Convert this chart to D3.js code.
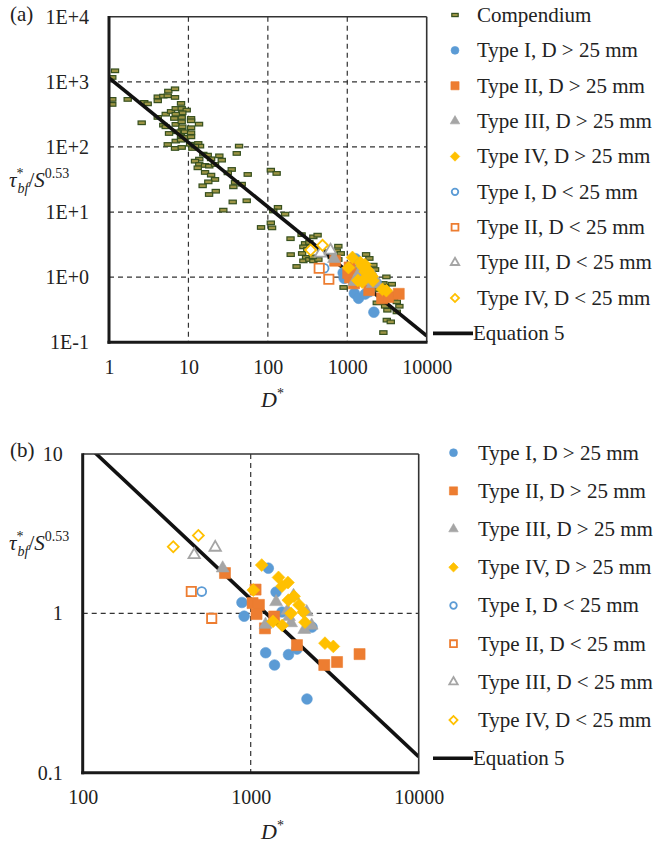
<!DOCTYPE html>
<html>
<head>
<meta charset="utf-8">
<script src="https://cdn.jsdelivr.net/npm/d3@7"></script>
<style>
  body { margin: 0; background: #fff; }
  svg { display: block; }
</style>
</head>
<body>
<div id="chart"></div>
<script>
// ---- data ----
const compendiumD = [1.19, 1.10, 1.10, 1.10, 1.72, 2.78, 3.07, 2.58, 4.11, 4.83, 4.11, 5.58, 5.49, 6.78, 6.78, 8.07, 5.18, 4.11, 6.04, 6.92,
  8.23, 9.52, 8.38, 8.23, 6.92, 6.64, 4.83, 5.18, 6.92, 8.23, 8.38, 8.23, 7.12, 5.70, 9.06, 8.07, 9.06, 6.92, 8.07, 10.8,
  10.8, 13.6, 10.8, 10.8, 10.8, 5.49, 6.78, 8.23, 10.5, 11.2, 13.3, 14.0, 12.1, 43.4, 40.6, 15.4, 17.5, 24.5, 13.7, 12.1,
  19.3, 26.3, 13.7, 16.2, 18.3, 21.6, 13.1, 35.1, 16.2, 19.3, 31.3, 55.8, 21.6, 17.8, 38.6, 46.9, 15.1, 36.8, 22.1, 18.2,
  36.1, 54.2, 27.5, 109, 129, 134, 117, 165, 109, 82.1, 113, 193, 266, 374, 423, 294, 333, 280, 314, 270,
  303, 280, 333, 194, 230, 374, 433, 368, 468, 525, 772, 738, 828, 638, 772, 1725, 1898, 2132, 2239, 898,
  3108, 2849, 3635, 2993, 2465, 2993, 3081, 3530, 3886, 2720, 2993, 3199, 4202, 4531, 4202, 2352, 3145, 3530, 2849];
const compendiumTau = [1476, 1168, 537, 450, 537, 483, 459, 235, 588, 603, 511, 720, 610, 781, 576, 466, 319, 284, 351, 390,
  390, 368, 334, 284, 319, 274, 216, 204, 222, 243, 204, 177, 171, 161, 171, 147, 140, 123, 127, 274,
  252, 224, 197, 165, 143, 109, 94.8, 98.2, 110, 94.8, 113, 103, 103, 103, 79.5, 77.5, 74.8, 73.0, 65.0, 60.5,
  65.7, 62.7, 53.8, 52.0, 50.7, 53.8, 47.8, 45.1, 40.6, 36.9, 40.0, 37.8, 31.7, 29.1, 28.5, 26.8, 25.3, 24.4, 20.9, 18.6,
  14.3, 14.9, 10.7, 44.0, 39.2, 11.8, 10.4, 9.29, 6.83, 5.80, 5.72, 3.90, 4.50, 4.16, 4.42, 3.29, 3.41, 2.92, 2.66, 2.31,
  2.01, 1.78, 1.87, 2.22, 1.46, 1.78, 1.87, 2.05, 2.60, 2.45, 2.99, 2.54, 2.31, 2.05, 1.87, 2.23, 1.94, 1.53, 1.31, 0.695,
  1.01, 0.80, 0.78, 0.727, 0.647, 0.616, 0.529, 0.548, 0.471, 0.418, 0.358, 0.311, 0.418, 0.358, 0.293, 0.403, 0.219, 0.206, 0.141];

const typeIBigD = [1273, 1416, 887, 914, 1535, 2317, 1228, 1386, 1679, 2163, 1886];
const typeIBigTau = [1.92, 1.36, 1.17, 0.96, 1.02, 0.82, 0.566, 0.474, 0.551, 0.29, 0.597];
const typeIIBigD = [703, 1069, 1026, 1119, 1083, 1216, 1380, 1886, 2741, 3266, 4446];
const typeIIBigTau = [1.79, 1.41, 1.16, 1.13, 0.99, 0.805, 0.955, 0.632, 0.474, 0.495, 0.555];
const typeIIIBigD = [681, 1416, 1798, 1656, 1225, 1738, 2084, 2306, 2154, 1690];
const typeIIIBigTau = [1.92, 1.18, 1.29, 1.04, 0.85, 0.87, 0.79, 0.84, 1.02, 0.95];
const typeIVBigD = [1163, 1464, 1667, 1535, 1036, 1675, 1939, 1738, 2056, 2104, 1358, 1541, 2767, 3103, 1811];
const typeIVBigTau = [2.01, 1.68, 1.56, 1.48, 1.40, 1.21, 1.13, 1.00, 1.02, 0.88, 0.89, 0.84, 0.65, 0.62, 1.28];
const typeISmallD = [511];
const typeISmallTau = [1.37];
const typeIISmallD = [443, 586];
const typeIISmallTau = [1.37, 0.93];
const typeIIISmallD = [461, 615];
const typeIIISmallTau = [2.33, 2.59];
const typeIVSmallD = [346, 488];
const typeIVSmallTau = [2.62, 3.08];

// Equation 5 end points
const eqD = [1, 10000];
const eqTau = [1150, 0.126];

const xTicksA = [1, 10, 100, 1000, 10000];
const xLabelsA = ["1", "10", "100", "1000", "10000"];
const yTicksA = [0.1, 1, 10, 100, 1000, 10000];
const yLabelsA = ["1E-1", "1E+0", "1E+1", "1E+2", "1E+3", "1E+4"];
const xTicksB = [100, 1000, 10000];
const xLabelsB = ["100", "1000", "10000"];
const yTicksB = [0.1, 1, 10];
const yLabelsB = ["0.1", "1", "10"];

// ---- styling ----
const FONT = '"Liberation Serif", "Times New Roman", Times, serif';
const BLUE = "#5B9BD5", ORANGE = "#ED7D31", GRAY = "#A5A5A5", YELLOW = "#FFC000";
const DASH_FILL = "#9c9444", DASH_STROKE = "#36501f";

const series = [
  { label: "Type I, D > 25 mm", D: typeIBigD, tau: typeIBigTau, shape: "circle", color: BLUE, open: false },
  { label: "Type II, D > 25 mm", D: typeIIBigD, tau: typeIIBigTau, shape: "square", color: ORANGE, open: false },
  { label: "Type III, D > 25 mm", D: typeIIIBigD, tau: typeIIIBigTau, shape: "triangle", color: GRAY, open: false },
  { label: "Type IV, D > 25 mm", D: typeIVBigD, tau: typeIVBigTau, shape: "diamond", color: YELLOW, open: false },
  { label: "Type I, D < 25 mm", D: typeISmallD, tau: typeISmallTau, shape: "circle", color: BLUE, open: true },
  { label: "Type II, D < 25 mm", D: typeIISmallD, tau: typeIISmallTau, shape: "square", color: ORANGE, open: true },
  { label: "Type III, D < 25 mm", D: typeIIISmallD, tau: typeIIISmallTau, shape: "triangle", color: GRAY, open: true },
  { label: "Type IV, D < 25 mm", D: typeIVSmallD, tau: typeIVSmallTau, shape: "diamond", color: YELLOW, open: true },
];

const panels = [
  {
    tag: "(a)", tagY: 21, left: 109, right: 426.7, top: 16.7, bottom: 342.3,
    xDomain: [1, 10000], yDomain: [0.1, 10000],
    xTicks: xTicksA, xLabels: xLabelsA, yTicks: yTicksA, yLabels: yLabelsA,
    xGrid: [10, 100, 1000], yGrid: [1, 10, 100, 1000],
    compendium: true, yTitleY: 187, xTitleY: 407,
    legendTop: 15, legendStep: 35.37, legendX: 455, legendTextX: 477,
  },
  {
    tag: "(b)", tagY: 457, left: 82.7, right: 418.7, top: 454, bottom: 772.7,
    xDomain: [100, 10000], yDomain: [0.1, 10],
    xTicks: xTicksB, xLabels: xLabelsB, yTicks: yTicksB, yLabels: yLabelsB,
    xGrid: [1000], yGrid: [1],
    compendium: false, yTitleY: 550, xTitleY: 839,
    legendTop: 452.7, legendStep: 38.2, legendX: 453.5, legendTextX: 478,
  },
];

const svg = d3.select("#chart").append("svg")
  .attr("width", 661)
  .attr("height", 845)
  .attr("font-family", FONT);

// marker path for a given shape
function markerPath(shape, open, scale = 1) {
  const sizes = open
    ? { circle: 62, square: 86, triangle: 56, diamond: 60 }
    : { circle: 90, square: 122, triangle: 72, diamond: 82 };
  const type = { circle: d3.symbolCircle, square: d3.symbolSquare, triangle: d3.symbolTriangle, diamond: d3.symbolSquare }[shape];
  return d3.symbol(type, sizes[shape] * scale * scale)();
}

function drawMarkers(g, s, x, y, scale = 1) {
  const pts = d3.zip(s.D, s.tau);
  g.append("g")
    .selectAll("path")
    .data(pts)
    .join("path")
    .attr("d", markerPath(s.shape, s.open, scale))
    .attr("transform", (d) => `translate(${x(d[0])},${y(d[1])})` + (s.shape === "diamond" ? " rotate(45)" : ""))
    .attr("fill", s.open ? "#fff" : s.color)
    .attr("stroke", s.color)
    .attr("stroke-width", s.open ? 1.8 : 0.6);
}

panels.forEach((p, pi) => {
  const x = d3.scaleLog().domain(p.xDomain).range([p.left, p.right]);
  const y = d3.scaleLog().domain(p.yDomain).range([p.bottom, p.top]);
  const g = svg.append("g");

  const clipId = "clip" + pi;
  g.append("clipPath").attr("id", clipId)
    .append("rect")
    .attr("x", p.left).attr("y", p.top)
    .attr("width", p.right - p.left).attr("height", p.bottom - p.top);

  // gridlines
  g.append("g").selectAll("line")
    .data(p.xGrid).join("line")
    .attr("x1", (d) => x(d)).attr("x2", (d) => x(d))
    .attr("y1", p.top).attr("y2", p.bottom)
    .attr("stroke", "#333").attr("stroke-width", 1.2).attr("stroke-dasharray", "5,4");
  g.append("g").selectAll("line")
    .data(p.yGrid).join("line")
    .attr("x1", p.left).attr("x2", p.right)
    .attr("y1", (d) => y(d)).attr("y2", (d) => y(d))
    .attr("stroke", "#333").attr("stroke-width", 1.2).attr("stroke-dasharray", "5,4");

  // compendium dashes
  if (p.compendium) {
    g.append("g").selectAll("rect")
      .data(d3.zip(compendiumD, compendiumTau)).join("rect")
      .attr("x", (d) => x(d[0]) - 3.6).attr("y", (d) => y(d[1]) - 1.8)
      .attr("width", 7.2).attr("height", 3.6)
      .attr("fill", DASH_FILL).attr("stroke", DASH_STROKE).attr("stroke-width", 1.2);
  }

  // Equation 5
  const line = d3.line().x((d) => x(d[0])).y((d) => y(d[1]));
  g.append("path")
    .datum(d3.zip(eqD, eqTau))
    .attr("clip-path", `url(#${clipId})`)
    .attr("d", line)
    .attr("fill", "none").attr("stroke", "#111").attr("stroke-width", 3.6);

  // type series
  series.forEach((s) => drawMarkers(g, s, x, y));

  // frame
  g.append("line").attr("x1", p.left).attr("x2", p.right).attr("y1", p.top).attr("y2", p.top)
    .attr("stroke", "#333").attr("stroke-width", 1.6);
  g.append("line").attr("x1", p.right).attr("x2", p.right).attr("y1", p.top).attr("y2", p.bottom)
    .attr("stroke", "#333").attr("stroke-width", 1.6);
  g.append("line").attr("x1", p.left).attr("x2", p.left).attr("y1", p.top - 0.8).attr("y2", p.bottom + 1.5)
    .attr("stroke", "#1a1a1a").attr("stroke-width", 3);
  g.append("line").attr("x1", p.left - 1.5).attr("x2", p.right + 0.8).attr("y1", p.bottom).attr("y2", p.bottom)
    .attr("stroke", "#1a1a1a").attr("stroke-width", 3);

  // axes (labels only)
  const xAxis = d3.axisBottom(x).tickValues(p.xTicks).tickFormat((d, i) => p.xLabels[i]).tickSize(0).tickPadding(17.5);
  g.append("g")
    .attr("transform", `translate(0,${p.bottom})`)
    .call(xAxis)
    .call((a) => a.select(".domain").remove())
    .attr("font-family", FONT).attr("font-size", 20).attr("color", "#222");

  const yAxis = d3.axisLeft(y).tickValues(p.yTicks).tickFormat((d, i) => p.yLabels[i]).tickSize(0).tickPadding(20);
  g.append("g")
    .attr("transform", `translate(${p.left},0)`)
    .call(yAxis)
    .call((a) => a.select(".domain").remove())
    .attr("font-family", FONT).attr("font-size", 20).attr("color", "#222");

  // panel tag
  g.append("text").attr("x", 10).attr("y", p.tagY).attr("font-size", 21).attr("fill", "#222").text(p.tag);

  // y title: tau*_bf / S^0.53
  const yt = g.append("text").attr("x", 9).attr("y", p.yTitleY).attr("font-size", 21).attr("fill", "#222");
  yt.append("tspan").attr("font-style", "italic").text("τ");
  yt.append("tspan").attr("font-size", 14).attr("dy", -9).text("*");
  yt.append("tspan").attr("font-size", 14).attr("font-style", "italic").attr("dx", -6).attr("dy", 15).text("bf");
  yt.append("tspan").attr("dy", -6).text("/");
  yt.append("tspan").attr("font-style", "italic").text("S");
  yt.append("tspan").attr("font-size", 14).attr("dy", -9).text("0.53");

  // x title: D*
  const xt = g.append("text").attr("x", 261).attr("y", p.xTitleY).attr("font-size", 22).attr("fill", "#222");
  xt.append("tspan").attr("font-style", "italic").text("D");
  xt.append("tspan").attr("font-size", 14).attr("dy", -9).text("*");

  // legend
  const lg = g.append("g");
  let row = 0;
  const rowY = (r) => p.legendTop + r * p.legendStep;
  if (p.compendium) {
    lg.append("rect").attr("x", p.legendX - 3.2).attr("y", rowY(row) - 1.6).attr("width", 6.4).attr("height", 3.2)
      .attr("fill", DASH_FILL).attr("stroke", DASH_STROKE).attr("stroke-width", 1.2);
    lg.append("text").attr("x", p.legendTextX).attr("y", rowY(row) + 6.8).attr("font-size", 21).attr("fill", "#222").text("Compendium");
    row++;
  }
  series.forEach((s) => {
    const cy = rowY(row);
    lg.append("path")
      .attr("d", markerPath(s.shape, s.open, 0.74))
      .attr("transform", `translate(${p.legendX},${cy})` + (s.shape === "diamond" ? " rotate(45)" : ""))
      .attr("fill", s.open ? "#fff" : s.color)
      .attr("stroke", s.color).attr("stroke-width", s.open ? 1.8 : 0.6);
    lg.append("text").attr("x", p.legendTextX).attr("y", cy + 6.8).attr("font-size", 21).attr("fill", "#222").text(s.label);
    row++;
  });
  const ey = rowY(row);
  lg.append("line").attr("x1", 433).attr("x2", 473).attr("y1", ey).attr("y2", ey)
    .attr("stroke", "#111").attr("stroke-width", 3.6);
  lg.append("text").attr("x", 473).attr("y", ey + 6.8).attr("font-size", 21).attr("fill", "#222").text("Equation 5");
});
</script>
</body>
</html>
